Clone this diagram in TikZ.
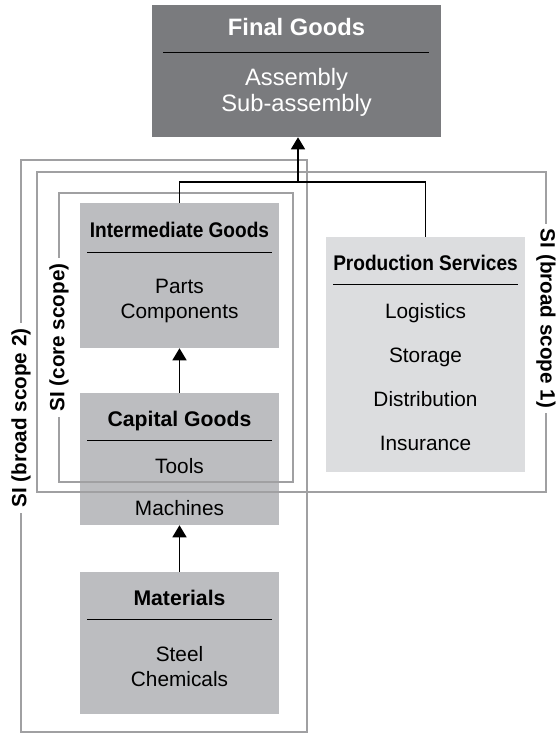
\documentclass[tikz,border=0pt]{standalone}
\usepackage{fontspec}
\setmainfont{Liberation Sans}
\newfontfamily\narrowsans[FakeStretch=0.9]{Liberation Sans}
\usetikzlibrary{arrows.meta}
\definecolor{boxgray}{RGB}{188,189,192}
\definecolor{paleboxgray}{RGB}{220,221,223}
\definecolor{darkboxgray}{RGB}{122,123,126}
\definecolor{scopegray}{RGB}{160,160,162}

\begin{document}
\begin{tikzpicture}
[x=.75pt,y=-.75pt,
box/.style={fill=boxgray,minimum width=149.25pt,inner sep=0pt},
title/.style={font=\fontsize{15.9}{18}\selectfont\bfseries,anchor=base},
narrowtitle/.style={font=\narrowsans\fontsize{15.9}{18}\selectfont\bfseries,anchor=base},
item/.style={font=\fontsize{15.6}{18}\selectfont,anchor=base},
big/.style={font=\fontsize{17.8}{20}\selectfont,anchor=base,text=white},
sep/.style={line width=.6pt},
scope/.style={draw=scopegray,line width=1.5pt},
slabel/.style={fill=white,inner xsep=4pt,inner ysep=1pt,font=\fontsize{15.5}{18}\selectfont\bfseries},
link/.style={line width=1.1pt},
arr/.style={link,-{Triangle[length=9pt,width=10.5pt]}}]
\useasboundingbox (0,0) rectangle (556,735);

% boxes
\node[box,fill=darkboxgray,minimum width=216.75pt,minimum height=99pt] (fg) at (296.5,71) {};
\node[box,minimum height=108.75pt] (ig) at (179.5,275.5) {};
\node[box,minimum height=99pt] (cg) at (179.5,459) {};
\node[box,minimum height=106.5pt] (ma) at (179.5,643) {};
\node[box,fill=paleboxgray,minimum height=176.25pt] (ps) at (425.5,354.5) {};

% final goods
\node[big,font=\fontsize{17.8}{20}\selectfont\bfseries] (fg1) at (296.5,36) {Final Goods};
\draw[sep] (163,52) -- (429,52);
\node[big] (fg2) at (296.5,85) {Assembly};
\node[big] (fg3) at (296.5,111) {Sub-assembly};

% intermediate goods
\node[narrowtitle] (ig1) at (179.5,237) {Intermediate Goods};
\draw[sep] (87,252) -- (272,252);
\node[item] (ig2) at (179.5,293) {Parts};
\node[item] (ig3) at (179.5,318) {Components};

% capital goods
\node[title] (cg1) at (179.5,426) {Capital Goods};
\draw[sep] (87,440) -- (272,440);
\node[item] (cg2) at (179.5,473) {Tools};
\node[item] (cg3) at (179.5,515) {Machines};

% materials
\node[title] (ma1) at (179.5,605) {Materials};
\draw[sep] (87,619) -- (272,619);
\node[item] (ma2) at (179.5,661) {Steel};
\node[item] (ma3) at (179.5,686) {Chemicals};

% production services
\node[narrowtitle] (ps1) at (425.5,270) {Production Services};
\draw[sep] (333,284) -- (518,284);
\node[item] (ps2) at (425.5,318) {Logistics};
\node[item] (ps3) at (425.5,362) {Storage};
\node[item] (ps4) at (425.5,406) {Distribution};
\node[item] (ps5) at (425.5,450) {Insurance};

% scopes
\draw[scope] (21,160) rectangle (307,732);
\draw[scope] (37,172) rectangle (546,492);
\draw[scope] (59,193) rectangle (293,482);
\node[slabel,rotate=90] (s2) at (21,418) {SI (broad scope 2)};
\node[slabel,rotate=-90] (s1) at (546,318.5) {SI (broad scope 1)};
\node[slabel,rotate=90] (s0) at (59,337.5) {SI (core scope)};

% links
\coordinate (j) at (298,182);
\draw[link] (ig.north) -- (ig.north |- j) -- (ps.north |- j) -- (ps.north);
\draw[arr] (j) -- (fg.south -| j);
\foreach \from/\to in {ma/cg,cg/ig}
\draw[arr] (\from) -- (\to);
\end{tikzpicture}
\end{document}
